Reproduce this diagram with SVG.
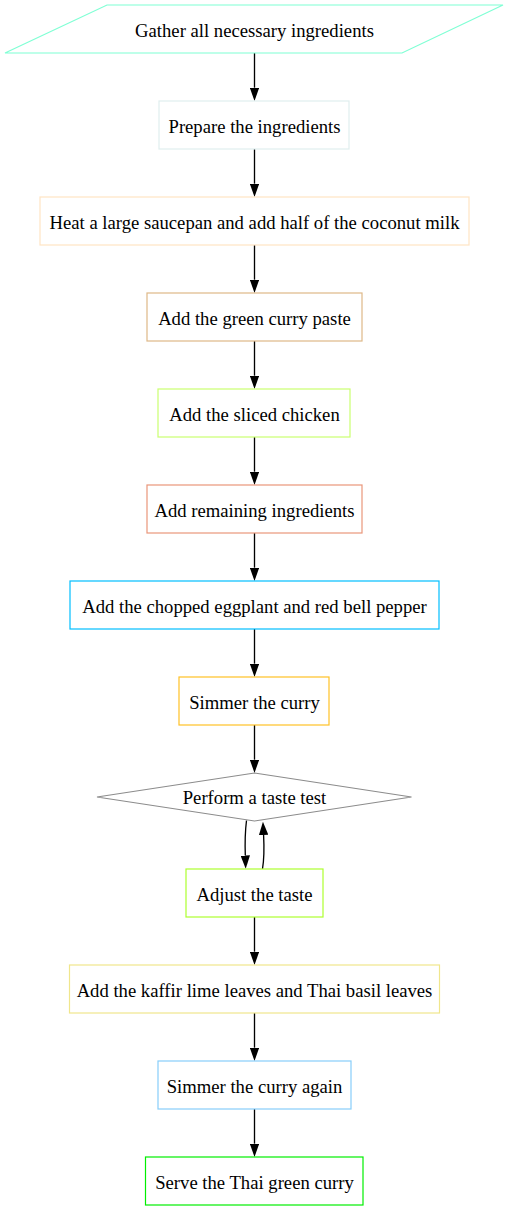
<svg xmlns="http://www.w3.org/2000/svg" width="509" height="1211" viewBox="0 0 509 1211">
<style>
  .n { fill: #ffffff; stroke-width: 1.2; }
  .t { font-family: "Liberation Serif", "Times New Roman", serif; font-size: 18.67px; fill: #000000; text-anchor: middle; }
  .e { fill: none; stroke: #000000; stroke-width: 1.33; }
</style>
<defs>
  <marker id="arrow" viewBox="0 0 13.3 9.4" refX="0" refY="4.7" markerWidth="13.3" markerHeight="9.4" markerUnits="userSpaceOnUse" orient="auto">
    <polygon points="0,0 13.3,4.7 0,9.4" fill="#000000"/>
  </marker>
</defs>
<rect width="509" height="1211" fill="#ffffff"/>
<g id="edges">
  <path class="e" d="M254.5,53 V87.7" marker-end="url(#arrow)"/>
  <path class="e" d="M254.5,149 V183.7" marker-end="url(#arrow)"/>
  <path class="e" d="M254.5,245 V279.7" marker-end="url(#arrow)"/>
  <path class="e" d="M254.5,341 V375.7" marker-end="url(#arrow)"/>
  <path class="e" d="M254.5,437 V471.7" marker-end="url(#arrow)"/>
  <path class="e" d="M254.5,533 V567.7" marker-end="url(#arrow)"/>
  <path class="e" d="M254.5,629 V663.7" marker-end="url(#arrow)"/>
  <path class="e" d="M254.5,725 V759.7" marker-end="url(#arrow)"/>
  <path class="e" d="M246.5,820.5 C245.3,830 244.9,843 245.3,855.5" marker-end="url(#arrow)"/>
  <path class="e" d="M262.5,868.8 C264,860 264.2,847 263.6,835" marker-end="url(#arrow)"/>
  <path class="e" d="M254.5,917 V951.7" marker-end="url(#arrow)"/>
  <path class="e" d="M254.5,1013 V1047.7" marker-end="url(#arrow)"/>
  <path class="e" d="M254.5,1109 V1143.7" marker-end="url(#arrow)"/>
</g>
<g id="gather">
  <polygon class="n" stroke="#7fffd4" points="107,5 503,5 402,53 5,53"/>
  <text class="t" x="254.5" y="37">Gather all necessary ingredients</text>
</g>
<g id="prepare">
  <rect class="n" stroke="#e0eeee" x="159" y="101" width="190" height="48"/>
  <text class="t" x="254.5" y="133">Prepare the ingredients</text>
</g>
<g id="heat">
  <rect class="n" stroke="#ffe4c4" x="40" y="197" width="429" height="48"/>
  <text class="t" x="254.5" y="229">Heat a large saucepan and add half of the coconut milk</text>
</g>
<g id="paste">
  <rect class="n" stroke="#deb887" x="147" y="293" width="215" height="48"/>
  <text class="t" x="254.5" y="325">Add the green curry paste</text>
</g>
<g id="chicken">
  <rect class="n" stroke="#caff70" x="158" y="389" width="192" height="48"/>
  <text class="t" x="254.5" y="421">Add the sliced chicken</text>
</g>
<g id="remaining">
  <rect class="n" stroke="#e9967a" x="147" y="485" width="215" height="48"/>
  <text class="t" x="254.5" y="517">Add remaining ingredients</text>
</g>
<g id="eggplant">
  <rect class="n" stroke="#00bfff" x="70" y="581" width="369" height="48"/>
  <text class="t" x="254.5" y="613">Add the chopped eggplant and red bell pepper</text>
</g>
<g id="simmer">
  <rect class="n" stroke="#ffc125" x="179" y="677" width="150" height="48"/>
  <text class="t" x="254.5" y="709">Simmer the curry</text>
</g>
<g id="taste">
  <polygon class="n" stroke="#8c8c8c" points="254.5,773 411.5,797 254.5,821 97,797"/>
  <text class="t" x="254.5" y="804">Perform a taste test</text>
</g>
<g id="adjust">
  <rect class="n" stroke="#adff2f" x="186" y="869" width="137" height="48"/>
  <text class="t" x="254.5" y="901">Adjust the taste</text>
</g>
<g id="kaffir">
  <rect class="n" stroke="#f0e68c" x="69.5" y="965" width="370" height="48"/>
  <text class="t" x="254.5" y="997">Add the kaffir lime leaves and Thai basil leaves</text>
</g>
<g id="simmer2">
  <rect class="n" stroke="#87cefa" x="158" y="1061" width="193" height="48"/>
  <text class="t" x="254.5" y="1093">Simmer the curry again</text>
</g>
<g id="serve">
  <rect class="n" stroke="#00ee00" x="145.5" y="1157" width="217.5" height="48"/>
  <text class="t" x="254.5" y="1189">Serve the Thai green curry</text>
</g>
</svg>
